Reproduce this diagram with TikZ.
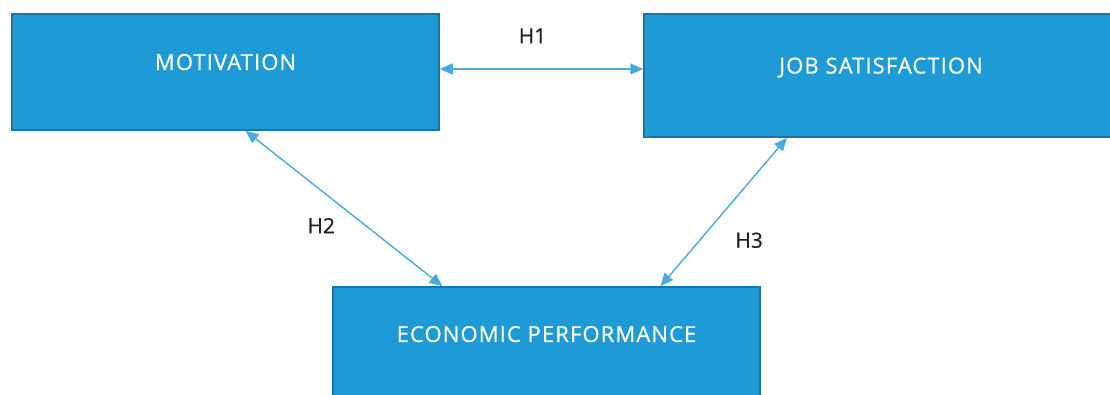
\documentclass[tikz,border=0pt]{standalone}
\usepackage{fontspec}
\setmainfont{Open Sans}
\usetikzlibrary{arrows.meta,positioning}
\definecolor{boxblue}{RGB}{30,155,215}
\definecolor{boxedge}{RGB}{24,118,172}
\definecolor{linkblue}{RGB}{72,170,222}
\definecolor{hypgray}{RGB}{30,30,30}
\tikzset{
  factor/.style={draw=boxedge, line width=1.5pt, fill=boxblue, text=white,
    font=\fontsize{22}{26}\selectfont\addfontfeature{LetterSpace=5,FakeBold=0.6},
    text depth=20pt, inner sep=0pt},
  link/.style={draw=linkblue, line width=1.4pt,
    {Triangle[length=13pt,width=11pt]}-{Triangle[length=13pt,width=11pt]}},
  hyp/.style={text=hypgray, font=\fontsize{21}{24}\selectfont\addfontfeature{FakeBold=0.4}, inner sep=0pt}
}
\begin{document}
\begin{tikzpicture}[x=1pt,y=1pt,yscale=-1,xscale=1]
\path[use as bounding box] (0,0) rectangle (1110,394);
\clip (0,0) rectangle (1110,394);

% Boxes
\node[factor, minimum width=427pt, minimum height=116pt] (mot) at (225.5,72) {MOTIVATION};
\node[factor, minimum width=474pt, minimum height=123pt] (job) at (881,75.5) {JOB SATISFACTION};
\node[factor, minimum width=427pt, minimum height=114pt] (eco) at (546.5,344) {ECONOMIC PERFORMANCE};

% Links
\coordinate (h1a) at ([yshift=-3pt]mot.east);
\coordinate (h1b) at (h1a -| job.west);
\draw[link] (h1a) -- (h1b) node[hyp, midway, above=25pt, xshift=-9pt] {H1};
\draw[link] ([xshift=20pt]mot.south) -- ([xshift=-104pt]eco.north) node[hyp, pos=0.61, left=30pt] {H2};
\draw[link] ([xshift=-94pt]job.south) -- ([xshift=114pt]eco.north) node[hyp, pos=0.69, right=35pt] {H3};

\end{tikzpicture}
\end{document}
